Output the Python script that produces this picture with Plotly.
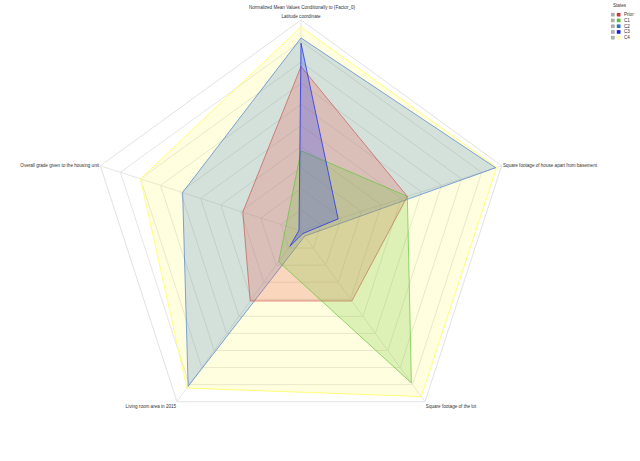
import plotly.graph_objects as go

categories = [
    "Latitude coordinate",
    "Square footage of house apart from basement",
    "Square footage of the lot",
    "Living room area in 2015",
    "Overall grade given to the housing unit",
]
series_names = ["Prior", "C1", "C2", "C3", "C4"]
prior = [0.78, 0.53, 0.41, 0.41, 0.29]
c1 = [0.38, 0.53, 0.89, 0.18, 0.075]
c2 = [0.915, 0.97, 0.03, 0.91, 0.59]
c3 = [0.89, 0.185, 0.015, 0.09, 0.01]
c4 = [0.967, 0.975, 0.97, 0.92, 0.80]
legend_title = "States"

values = {"Prior": prior, "C1": c1, "C2": c2, "C3": c3, "C4": c4}
line_colors = {
    "Prior": "rgba(200,70,70,0.6)",
    "C1": "rgba(100,200,60,0.7)",
    "C2": "rgba(50,110,200,0.6)",
    "C3": "rgba(20,40,240,0.7)",
    "C4": "rgba(255,255,110,0.9)",
}
fill_colors = {
    "Prior": "rgba(230,90,80,0.25)",
    "C1": "rgba(120,200,60,0.25)",
    "C2": "rgba(60,120,200,0.22)",
    "C3": "rgba(40,60,240,0.25)",
    "C4": "rgba(255,255,60,0.16)",
}
legend_colors = {
    "Prior": "rgb(205,55,60)",
    "C1": "rgb(90,190,60)",
    "C2": "rgb(45,110,205)",
    "C3": "rgb(20,30,235)",
    "C4": "rgb(255,255,170)",
}
draw_order = ["C4", "C2", "Prior", "C1", "C3"]

fig = go.Figure()
for name in draw_order:
    v = values[name]
    fig.add_trace(go.Scatterpolar(
        r=v + [v[0]],
        theta=categories + [categories[0]],
        name=name,
        mode="lines",
        fill="toself",
        fillcolor=fill_colors[name],
        line=dict(color=line_colors[name], width=1),
        showlegend=False,
    ))

W, H = 640, 461
cx, cy, R = 301, 231, 211
FONT = "Liberation Sans"

# compact legend (top-right)
lx, ly0, dy = 611, 14.7, 5.75
annotations = [dict(text=legend_title, x=lx / W, y=1 - 6 / H, xref="paper", yref="paper",
                    xanchor="left", yanchor="middle", showarrow=False,
                    font=dict(family=FONT, size=4.6, color="#333"))]
shapes = []
for i, name in enumerate(series_names):
    yc = ly0 + i * dy
    shapes.append(dict(type="rect", xref="paper", yref="paper",
                       x0=lx / W, x1=(lx + 3.7) / W,
                       y0=1 - (yc + 1.8) / H, y1=1 - (yc - 1.8) / H,
                       fillcolor="rgb(175,175,175)", line=dict(width=0)))
    shapes.append(dict(type="rect", xref="paper", yref="paper",
                       x0=(lx + 5.8) / W, x1=(lx + 9.5) / W,
                       y0=1 - (yc + 1.8) / H, y1=1 - (yc - 1.8) / H,
                       fillcolor=legend_colors[name], line=dict(width=0)))
    annotations.append(dict(text=name, x=(lx + 11) / W, y=1 - yc / H,
                            xref="paper", yref="paper", xanchor="left",
                            yanchor="middle", showarrow=False,
                            font=dict(family=FONT, size=4.6, color="#333")))

fig.update_layout(
    width=W, height=H,
    margin=dict(l=0, r=0, t=0, b=0, autoexpand=False),
    paper_bgcolor="white",
    font=dict(family=FONT, size=4.6, color="#333"),
    title=dict(text="Normalized Mean Values Conditionally to {Factor_0}",
               x=302 / W, xanchor="center", y=1 - 7 / H, yanchor="middle",
               font=dict(family=FONT, size=4.6, color="#333")),
    polar=dict(
        domain=dict(x=[(cx - R) / W, (cx + R) / W],
                    y=[1 - (cy + R) / H, 1 - (cy - R) / H]),
        bgcolor="white",
        gridshape="linear",
        radialaxis=dict(range=[0, 1], dtick=0.1, showticklabels=False,
                        ticks="", showline=False, gridcolor="#e6e6e6",
                        gridwidth=1),
        angularaxis=dict(rotation=90, direction="clockwise",
                         gridcolor="#e6e6e6", linecolor="#e2e2e2",
                         ticks="", tickfont=dict(family=FONT, size=4.6, color="#333")),
    ),
    annotations=annotations,
    shapes=shapes,
    showlegend=False,
)

fig.write_html("out.html")
